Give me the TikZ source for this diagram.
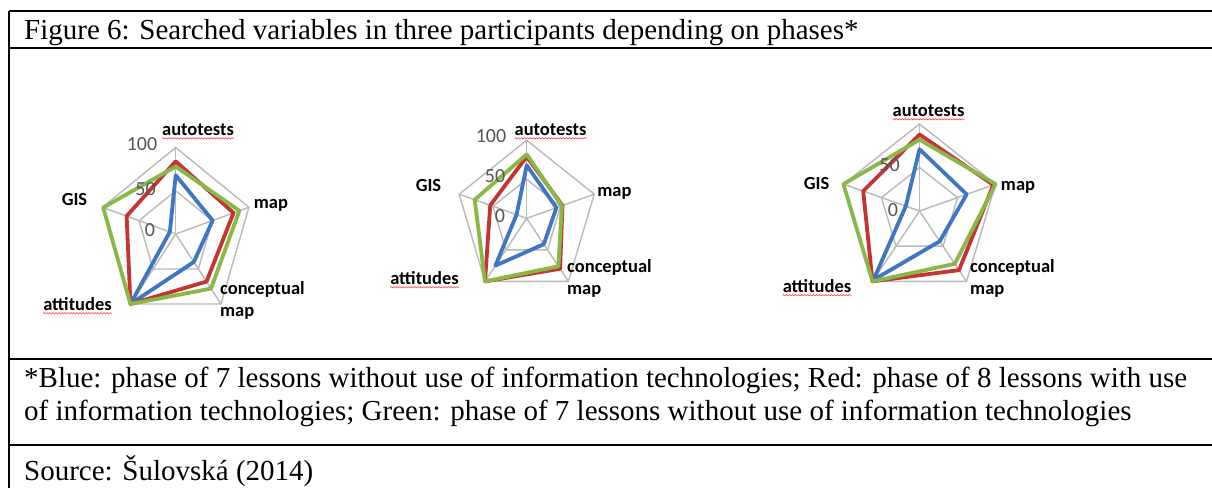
\documentclass[tikz,border=0pt]{standalone}
\usepackage{fontspec}
\setmainfont{Liberation Serif}
\newfontfamily\calfont{Carlito}
\usetikzlibrary{decorations.pathmorphing}
\definecolor{serblue}{RGB}{62,118,196}
\definecolor{serred}{RGB}{196,52,50}
\definecolor{sergreen}{RGB}{138,184,72}
\definecolor{gridgray}{RGB}{185,185,185}
\definecolor{axtxt}{RGB}{85,85,85}
\newcommand\radargrid{%
  \draw[gridline] (90:1) -- (18:1) -- (-54:1) -- (-126:1) -- (162:1) -- cycle;
  \draw[gridline] (90:.5) -- (18:.5) -- (-54:.5) -- (-126:.5) -- (162:.5) -- cycle;
  \foreach \a in {90,18,-54,-126,162} \draw[gridline] (0,0) -- (\a:1);
}
\newcommand\radarseries[6]{\draw[#1] (90:#2) -- (18:#3) -- (-54:#4) -- (-126:#5) -- (162:#6) -- cycle;}
\begin{document}
\begin{tikzpicture}[x=1pt,y=-1pt,
  hrule/.style={line width=2.4pt, black},
  vrule/.style={line width=1.6pt, black},
  body/.style={font=\fontsize{29}{33}\selectfont, anchor=base west, inner sep=0pt},
  gridline/.style={gridgray, line width=1.4pt},
  ser/.style={line width=3.8pt, line join=round},
  sblue/.style={ser, serblue},
  sred/.style={ser, serred},
  sgreen/.style={ser, sergreen},
  cat/.style={font=\calfont\bfseries\fontsize{18.5}{20}\selectfont, inner sep=0pt, anchor=mid},
  catl/.style={cat, anchor=mid west},
  ax/.style={font=\calfont\fontsize{20}{22}\selectfont, text=axtxt, inner sep=0pt, anchor=mid},
  squig/.style={red!75, line width=0.6pt, decorate, decoration={snake, segment length=3pt, amplitude=0.7pt}}
]
\useasboundingbox (0,0) rectangle (1212,488);
\fill[white] (0,0) rectangle (1212,488);

% table rules
\coordinate (tl) at (9,11);
\coordinate (bl) at (9,488);
\draw[hrule] (9,11) coordinate (r0a) -- (1212,11) coordinate (r0b);
\draw[hrule] (9,48) coordinate (r1a) -- (1212,48) coordinate (r1b);
\draw[hrule] (9,359) coordinate (r2a) -- (1212,359) coordinate (r2b);
\draw[hrule] (9,445) coordinate (r3a) -- (1212,445) coordinate (r3b);
\draw[vrule] (tl) -- (bl);

% texts
\node[body] (title) at (24,39) {Figure 6: Searched variables in three participants depending on phases*};
\node[body] (fn1) at (24,387) {*Blue: phase of 7 lessons without use of information technologies; Red: phase of 8 lessons with use};
\node[body] (fn2) at (24,420.5) {of information technologies; Green: phase of 7 lessons without use of information technologies};
\node[body] (src) at (24,480) {Source: Šulovská (2014)};

% chart 1
\begin{scope}[shift={(175.7,234)}, xscale=77, yscale=-86.5]
  \radargrid
  \radarseries{sblue}{0.68}{0.505}{0.40}{1.0}{0.08}
  \radarseries{sred}{0.84}{0.79}{0.68}{1.0}{0.67}
  \radarseries{sgreen}{0.78}{0.87}{0.78}{1.0}{0.99}
\end{scope}
\node[ax] (c1a) at (142,148) {100};
\node[ax] (c1b) at (145.5,193) {50};
\node[ax] (c1c) at (150,234) {0};
\node[cat] (c1auto) at (198,133) {autotests};
\node[cat] (c1gis) at (74.5,203) {GIS};
\node[cat] (c1map) at (271,206) {map};
\node[catl] (c1con) at (220,292) {conceptual};
\node[catl] (c1con2) at (220,314) {map};
\node[cat] (c1att) at (77.5,308) {attitudes};
\draw[squig] ([yshift=-3pt]c1auto.base west) -- ([yshift=-3pt]c1auto.base east);
\draw[squig] ([yshift=-3pt]c1att.base west) -- ([yshift=-3pt]c1att.base east);

% chart 2
\begin{scope}[shift={(526.7,218.3)}, xscale=71, yscale=-78]
  \radargrid
  \radarseries{sblue}{0.68}{0.44}{0.41}{0.75}{0.15}
  \radarseries{sred}{0.79}{0.53}{0.80}{1.0}{0.54}
  \radarseries{sgreen}{0.82}{0.52}{0.76}{1.0}{0.77}
\end{scope}
\node[ax] (c2a) at (491,140) {100};
\node[ax] (c2b) at (495,180) {50};
\node[ax] (c2c) at (500,220) {0};
\node[cat] (c2auto) at (550.5,133) {autotests};
\node[cat] (c2gis) at (428.5,189) {GIS};
\node[cat] (c2map) at (614.5,194) {map};
\node[catl] (c2con) at (567,270) {conceptual};
\node[catl] (c2con2) at (567,292) {map};
\node[cat] (c2att) at (424.5,282) {attitudes};
\draw[squig] ([yshift=-3pt]c2auto.base west) -- ([yshift=-3pt]c2auto.base east);
\draw[squig] ([yshift=-3pt]c2att.base west) -- ([yshift=-3pt]c2att.base east);

% chart 3
\begin{scope}[shift={(919.5,211)}, xscale=80, yscale=-87]
  \radargrid
  \radarseries{sblue}{0.71}{0.62}{0.43}{0.98}{0.18}
  \radarseries{sred}{0.88}{0.97}{0.84}{1.0}{0.74}
  \radarseries{sgreen}{0.82}{1.0}{0.75}{1.0}{1.0}
\end{scope}
\node[ax] (c3b) at (889.5,169) {50};
\node[ax] (c3c) at (893,214) {0};
\node[cat] (c3auto) at (928.5,114) {autotests};
\node[cat] (c3gis) at (816.5,187) {GIS};
\node[cat] (c3map) at (1018,188) {map};
\node[catl] (c3con) at (970,270) {conceptual};
\node[catl] (c3con2) at (970,292) {map};
\node[cat] (c3att) at (817,290) {attitudes};
\draw[squig] ([yshift=-3pt]c3auto.base west) -- ([yshift=-3pt]c3auto.base east);
\draw[squig] ([yshift=-3pt]c3att.base west) -- ([yshift=-3pt]c3att.base east);
\end{tikzpicture}
\end{document}
